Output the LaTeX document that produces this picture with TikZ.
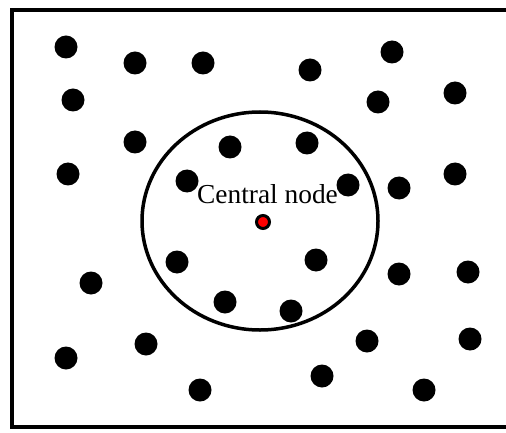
\documentclass[tikz,border=0pt]{standalone}
\usepackage{fontspec}
\setmainfont{Liberation Serif}
\usetikzlibrary{positioning}

\tikzset{
    dot/.style={circle, fill=black, inner sep=0pt, minimum size=11.5pt},
    centre/.style={circle, draw=black, line width=1.5pt, fill=red, inner sep=0pt, minimum size=6.5pt},
    labeltext/.style={inner sep=0pt, outer sep=0pt, font=\fontsize{13.7pt}{16pt}\selectfont}
}

\begin{document}
\begin{tikzpicture}[x=0.5pt, y=-0.5pt]
        \useasboundingbox (0,0) rectangle (506,432);
        \fill[white] (0,0) rectangle (506,432);
        \clip (0,0) rectangle (506,432);

        % 边框
        \draw[line width=2pt] (12,10) rectangle (514,427);

        % 普通节点
        \foreach \x/\y [count=\i] in {66/47, 135/63, 203/63, 310/70, 392/52,
            73/100, 378/102, 455/93, 135/142, 230/147, 307/143, 68/174,
            187/181, 348/185, 399/188, 455/174, 91/283, 177/262, 316/260,
            399/274, 468/272, 225/302, 291/311, 146/344, 66/358, 367/341,
            470/339, 200/390, 322/376, 424/390}
            \node[dot] (d\i) at (\x,\y) {};

        % 中心节点
        \node[centre] (central) at (263,222) {};
        \node[labeltext, above=5pt of central, xshift=2.25pt] (name) {Central node};

        % 邻域
        \draw[line width=1.75pt] (260,221) ellipse [x radius=118, y radius=109];
    \end{tikzpicture}
\end{document}
